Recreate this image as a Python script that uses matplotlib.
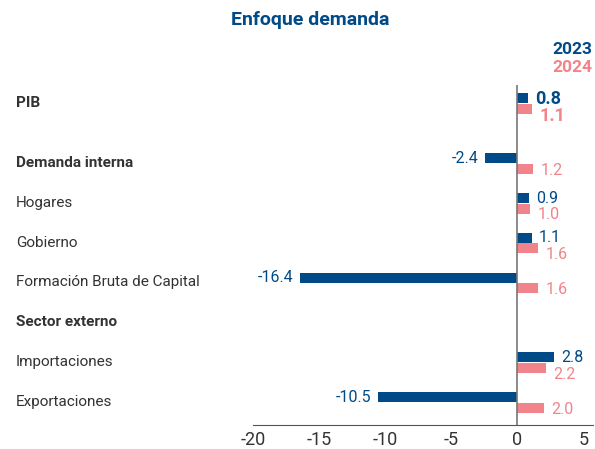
import numpy as np
import matplotlib
matplotlib.use("Agg")
import matplotlib.pyplot as plt
import matplotlib.transforms as mtransforms

categories = ["PIB", "Demanda interna", "Hogares", "Gobierno",
              "Formación Bruta de Capital", "Sector externo",
              "Importaciones", "Exportaciones"]
bold_rows = ["PIB", "Demanda interna", "Sector externo"]
vals_2023 = [0.8, -2.4, 0.9, 1.1, -16.4, np.nan, 2.8, -10.5]
vals_2024 = [1.1, 1.2, 1.0, 1.6, 1.6, np.nan, 2.2, 2.0]
xticks = [-20, -15, -10, -5, 0, 5]

blue = "#004a87"
pink = "#f0848a"
grey = "#333333"

plt.rcParams['font.family'] = ['Roboto', 'DejaVu Sans']

fig = plt.figure(figsize=(5.95, 4.49), dpi=100)
ax = fig.add_axes([0.425, 0.0535, 0.572, 0.757])

# PIB sits a half row above the rest
ypos = np.arange(len(categories)) + np.where(np.arange(len(categories)) > 0, 0.5, 0.0)
h = 0.25
off = 0.135

ax.barh(ypos - off, vals_2023, height=h, color=blue)
ax.barh(ypos + off, vals_2024, height=h, color=pink)

ax.set_xlim(-19.5, 5.75)
ax.set_ylim(8.06, -0.46)
ax.set_xticks(xticks)
ax.set_xticklabels([str(t) for t in xticks], fontsize=13, color=grey)
ax.tick_params(axis='x', length=0, pad=4)
ax.set_yticks([])
for s in ["top", "right", "left"]:
    ax.spines[s].set_visible(False)
ax.spines["bottom"].set_color("#555555")
ax.axvline(0, color="#777777", lw=1.2, zorder=3)

trans = mtransforms.blended_transform_factory(fig.transFigure, ax.transData)
for cat, y in zip(categories, ypos):
    ax.text(16 / 595, y - 0.05, cat, transform=trans, ha="left", va="center_baseline",
            fontsize=11, color=grey,
            fontweight="bold" if cat in bold_rows else "normal")

dx = 0.55
for i, (cat, y) in enumerate(zip(categories, ypos)):
    big = cat == "PIB"
    fs = 13 if big else 11.5
    fw = "bold" if big else "normal"
    # push the 2024 label down only when the 2023 label sits on the same side
    shift = 0.12 if vals_2023[i] > 0 else 0.0
    for v, yy, c in ((vals_2023[i], y - off - 0.03, blue),
                     (vals_2024[i], y + off + shift, pink)):
        if np.isnan(v):
            continue
        if v < 0:
            ax.text(v - dx, yy, f"{v:.1f}", ha="right", va="center_baseline",
                    fontsize=fs, fontweight=fw, color=c)
        else:
            ax.text(v + dx, yy, f"{v:.1f}", ha="left", va="center_baseline",
                    fontsize=fs, fontweight=fw, color=c)

fig.text(310 / 595, 1 - 20 / 449, "Enfoque demanda", ha="center", va="center",
         fontsize=14, fontweight="bold", color=blue)
fig.text(592 / 595, 1 - 50 / 449, "2023", ha="right", va="center",
         fontsize=12.5, fontweight="bold", color=blue)
fig.text(592 / 595, 1 - 67 / 449, "2024", ha="right", va="center",
         fontsize=12.5, fontweight="bold", color=pink)

fig.savefig("out.png", dpi=100)
